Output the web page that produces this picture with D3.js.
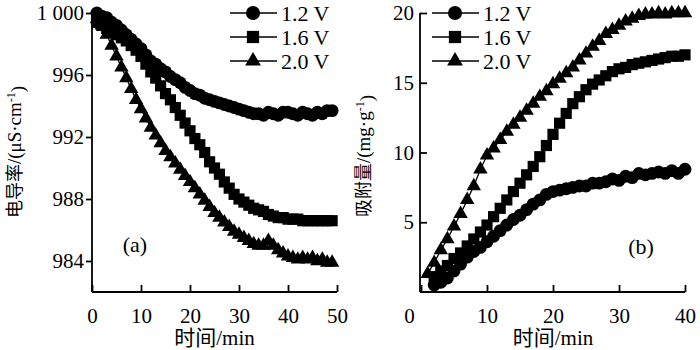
<!DOCTYPE html>
<html lang="zh">
<head>
<meta charset="UTF-8" />
<title>电导率与吸附量</title>
<script src="https://cdn.jsdelivr.net/npm/d3@7"></script>
<style>
  body { margin: 0; background: #fff; }
  text { font-family: "Liberation Serif", "Noto Sans CJK SC", serif; fill: #000; }
  .domain, .tick line { stroke: #000; stroke-width: 1.8; }
</style>
</head>
<body>
<svg id="chart" width="700" height="350"></svg>
<script>
// legend names and markers
var seriesNames = ["1.2 V", "1.6 V", "2.0 V"];

// (a) conductivity (uS/cm) vs time (min)
var timeA = [1,2,3,4,5,6,7,8,9,10,11,12,13,14,15,16,17,18,19,20,21,22,23,24,25,
             26,27,28,29,30,31,32,33,34,35,36,37,38,39,40,41,42,43,44,45,46,47,48,49];
var condA_12 = [1000.0,999.8,999.7,999.4,999.2,998.9,998.6,998.3,998.0,997.7,997.3,996.9,996.7,996.4,996.2,
                995.9,995.7,995.5,995.2,995.0,994.8,994.7,994.5,994.4,994.3,994.2,994.1,994.0,993.9,993.8,
                993.7,993.6,993.5,993.5,993.4,993.6,993.5,993.4,993.6,993.6,993.5,993.4,993.6,993.5,993.4,
                993.6,993.5,993.7,993.7];
var condA_16 = [999.4,999.2,999.0,998.8,998.6,998.4,998.2,997.9,997.6,997.2,996.7,996.2,995.8,995.3,994.8,
                994.4,993.9,993.4,992.9,992.4,991.9,991.5,991.0,990.4,990.0,989.6,989.1,988.7,988.3,988.0,
                987.8,987.6,987.4,987.3,987.2,987.0,986.9,986.8,986.8,986.7,986.7,986.7,986.6,986.6,986.6,
                986.6,986.6,986.6,986.6];
var condA_20 = [999.6,999.2,998.6,997.9,997.2,996.5,995.8,995.1,994.4,993.8,993.2,992.6,992.1,991.6,991.1,
                990.7,990.3,989.9,989.5,989.1,988.7,988.3,987.9,987.5,987.1,986.8,986.5,986.2,985.9,985.7,
                985.5,985.3,985.1,985.0,985.0,985.3,985.0,984.7,984.5,984.3,984.2,984.1,984.2,984.1,984.2,
                984.0,984.1,983.9,983.9];
var ticksA_x = [0, 10, 20, 30, 40, 50];
var ticksA_y = [984, 988, 992, 996, 1000];

// (b) adsorption (mg/g) vs time (min)
var timeB = [1,2,3,4,5,6,7,8,9,10,11,12,13,14,15,16,17,18,19,20,
             21,22,23,24,25,26,27,28,29,30,31,32,33,34,35,36,37,38,39,40];
var adsB_12 = [null,0.5,0.7,1.0,1.5,2.0,2.5,2.9,3.2,3.6,4.0,4.4,4.8,5.2,5.5,5.9,6.3,6.6,7.0,7.2,
               7.3,7.4,7.5,7.6,7.6,7.8,7.8,7.9,8.1,8.0,8.3,8.2,8.5,8.4,8.5,8.6,8.5,8.7,8.5,8.8];
var adsB_16 = [null,1.1,1.5,1.9,2.4,2.8,3.3,3.8,4.3,4.8,5.4,6.0,6.6,7.2,7.8,8.4,9.0,9.7,10.5,11.3,
               12.1,12.8,13.5,14.0,14.5,14.9,15.2,15.5,15.8,16.0,16.1,16.3,16.4,16.5,16.6,16.7,16.8,16.9,16.9,17.0];
var adsB_20 = [1.3,2.1,3.0,3.8,4.7,5.6,6.6,7.6,8.8,9.8,10.3,10.9,11.5,12.0,12.5,13.0,13.5,14.0,14.4,14.9,
               15.3,15.7,16.1,16.6,17.1,17.6,18.0,18.5,18.8,19.1,19.4,19.6,19.8,19.9,19.9,20.0,19.9,20.0,20.0,20.0];
var ticksB_x = [0, 10, 20, 30, 40];
var ticksB_y = [5, 10, 15, 20];

var svg = d3.select("#chart");
var symbolTypes = [d3.symbolCircle, d3.symbolSquare, d3.symbolTriangle];
var symbolSizes = [130, 125, 90];

function drawPanel(p) {
  var x = d3.scaleLinear().domain(p.xDomain).range(p.xRange);
  var y = d3.scaleLinear().domain(p.yDomain).range(p.yRange);
  var g = svg.append("g");

  // axes
  var xAxis = g.append("g")
    .attr("transform", "translate(0," + p.yRange[0] + ")")
    .call(d3.axisBottom(x).tickValues(p.xTicks).tickSize(-7).tickSizeOuter(0));
  xAxis.selectAll("text").attr("y", 16).attr("dy", "0.71em").style("font-size", "21px");
  xAxis.select(".domain").attr("d", "M" + (p.yAxisX) + ",0H" + p.xRange[1]);

  var yAxis = g.append("g")
    .attr("transform", "translate(" + p.yAxisX + ",0)")
    .call(d3.axisLeft(y).tickValues(p.yTicks).tickSize(p.yTickSize).tickSizeOuter(0)
      .tickFormat(p.yFormat));
  yAxis.selectAll("text").attr("x", p.yLabelX).style("font-size", "21px");
  yAxis.select(".domain").attr("d", "M0," + p.yRange[0] + "V" + p.yRange[1]);
  if (p.zeroShift) {
    xAxis.selectAll(".tick text").filter(function(d){ return d === 0; }).attr("dx", p.zeroShift);
  }

  // series
  p.series.forEach(function(vals, i) {
    var pts = p.time.map(function(t, k){ return [t, vals[k]]; })
                    .filter(function(d){ return d[1] != null; });
    g.append("path")
      .datum(pts)
      .attr("fill", "none")
      .attr("stroke", "#000")
      .attr("stroke-width", 1.3)
      .attr("d", d3.line().x(function(d){ return x(d[0]); }).y(function(d){ return y(d[1]); }));
    g.selectAll(".m" + i)
      .data(pts)
      .enter()
      .append("path")
      .attr("transform", function(d){ return "translate(" + x(d[0]) + "," + y(d[1]) + ")"; })
      .attr("d", d3.symbol().type(symbolTypes[i]).size(symbolSizes[i]))
      .attr("fill", "#000");
  });

  // legend
  seriesNames.forEach(function(name, i) {
    var ly = p.legend.y + i * 24;
    g.append("line")
      .attr("x1", p.legend.x).attr("x2", p.legend.x + 47)
      .attr("y1", ly).attr("y2", ly)
      .attr("stroke", "#000").attr("stroke-width", 1.6);
    g.append("path")
      .attr("transform", "translate(" + (p.legend.x + 23) + "," + ly + ")")
      .attr("d", d3.symbol().type(symbolTypes[i]).size(symbolSizes[i] * 1.2))
      .attr("fill", "#000");
    g.append("text")
      .attr("x", p.legend.x + 51).attr("y", ly).attr("dy", "0.35em")
      .style("font-size", "22px")
      .text(name);
  });

  // panel tag
  g.append("text")
    .attr("x", p.tag.x).attr("y", p.tag.y).attr("dy", "0.35em")
    .attr("text-anchor", "middle").style("font-size", "22px")
    .text(p.tag.text);

  // x title
  g.append("text")
    .attr("x", (p.xRange[0] + p.xRange[1]) / 2).attr("y", 338).attr("dy", "0.35em")
    .attr("text-anchor", "middle").style("font-size", "21px")
    .text("时间/min");

  // y title
  var yt = g.append("text")
    .attr("transform", "translate(" + p.yTitle.x + "," + p.yTitle.y + ") rotate(-90)")
    .attr("text-anchor", "middle").attr("dy", "0.35em")
    .style("font-size", "19px");
  yt.append("tspan").style("font-size", "18px").text(p.yTitle.cjk);
  yt.append("tspan").text(p.yTitle.unit);
  yt.append("tspan").attr("dy", "-0.45em").style("font-size", "12px").text("-1");
  yt.append("tspan").attr("dy", "0.45em").text(")");
}

drawPanel({
  time: timeA,
  series: [condA_12, condA_16, condA_20],
  xDomain: [0, 50], xRange: [92, 337],
  yDomain: [982, 1000], yRange: [292, 13],
  yAxisX: 92, xTicks: ticksA_x, yTicks: ticksA_y,
  yTickSize: 6, yLabelX: -8,
  yFormat: function(d){ return d === 1000 ? "1 000" : d; },
  legend: { x: 230, y: 13 },
  tag: { x: 135, y: 244, text: "(a)" },
  yTitle: { x: 14, y: 152, cjk: "电导率", unit: "/(μS·cm" }
});

drawPanel({
  time: timeB,
  series: [adsB_12, adsB_16, adsB_20],
  xDomain: [0, 40], xRange: [421, 685],
  yDomain: [0, 20], yRange: [292, 13],
  yAxisX: 420, xTicks: ticksB_x, yTicks: ticksB_y,
  yTickSize: -7, yLabelX: -6, zeroShift: -12,
  yFormat: function(d){ return d; },
  legend: { x: 432, y: 13 },
  tag: { x: 641, y: 246, text: "(b)" },
  yTitle: { x: 363, y: 156, cjk: "吸附量", unit: "/(mg·g" }
});
</script>
</body>
</html>
